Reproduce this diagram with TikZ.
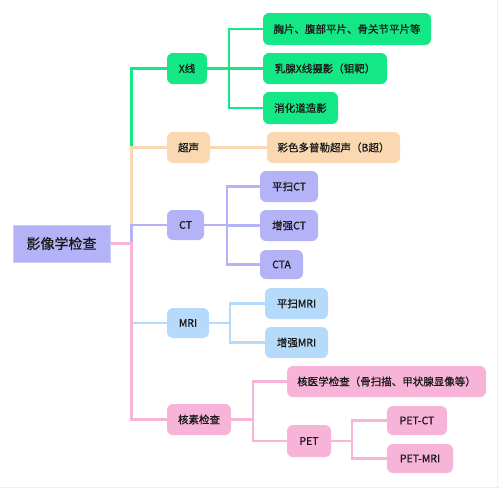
\documentclass[tikz,border=0pt]{standalone}
\usepackage{fontspec}
\setmainfont{Noto Sans CJK SC}[FakeBold=0.8,AutoFakeBold=0.8]
\usetikzlibrary{backgrounds}
\begin{document}
\begin{tikzpicture}[x=1pt,y=-1pt,
  every node/.style={text=black!90, font=\bfseries},
  box/.style={rounded corners=6pt, minimum height=31pt, inner sep=0pt, font=\fontsize{10.5}{12}\selectfont\bfseries},
  cgreen/.style={fill=mgreen}, cpeach/.style={fill=mpeach}, cviolet/.style={fill=mviolet},
  cblue/.style={fill=mblue}, cpink/.style={fill=mpink},
  link/.style={line width=2.8pt, line join=miter}]
\definecolor{mgreen}{HTML}{14E886}
\definecolor{mpeach}{HTML}{FAD8B2}
\definecolor{mviolet}{HTML}{B4B3F7}
\definecolor{mblue}{HTML}{B6DBFA}
\definecolor{mpink}{HTML}{F8B4D8}
\useasboundingbox (0,0) rectangle (500,488);
\draw[black!6, line width=1pt] (0,487.5) -- (500,487.5);
\draw[black!6, line width=1pt] (497.5,0) -- (497.5,487.5);
% coordinates for trunks
\coordinate (t0) at (131.5,0);
\coordinate (tx) at (229,0);
\coordinate (tc) at (227,0);
\coordinate (tm) at (230,0);
\coordinate (tn) at (253,0);
\coordinate (tp) at (352,0);
% nodes
\node[fill=mviolet, draw=mviolet!70!white, line width=0.6pt, minimum width=97pt, minimum height=37pt, inner sep=0pt, font=\fontsize{14}{16}\selectfont\bfseries] (root) at (61.5,243.5) {影像学检查};
\node[box, cgreen, minimum width=40pt] (x) at (187,68.5) {X线};
\node[box, cpeach, minimum width=43pt] (us) at (188.5,147.5) {超声};
\node[box, cviolet, minimum width=37pt, minimum height=30pt] (ct) at (185.5,225) {CT};
\node[box, cblue, minimum width=42pt, minimum height=30pt] (mri) at (188,323) {MRI};
\node[box, cpink, minimum width=64pt] (nuc) at (199,419.5) {核素检查};
\node[box, cgreen, minimum width=168pt, minimum height=32pt] (x1) at (347,29) {胸片、腹部平片、骨关节平片等};
\node[box, cgreen, minimum width=124pt] (x2) at (325,68.5) {乳腺X线摄影（钼靶）};
\node[box, cgreen, minimum width=75pt, minimum height=32pt] (x3) at (300.5,108) {消化道造影};
\node[box, cpeach, minimum width=133pt] (us1) at (333.5,147.5) {彩色多普勒超声（B超）};
\node[box, cviolet, minimum width=58pt] (ct1) at (289,186.5) {平扫CT};
\node[box, cviolet, minimum width=58pt] (ct2) at (289,225.5) {增强CT};
\node[box, cviolet, minimum width=43pt, minimum height=29pt] (ct3) at (281.5,264.5) {CTA};
\node[box, cblue, minimum width=63pt] (m1) at (296.5,303.5) {平扫MRI};
\node[box, cblue, minimum width=63pt] (m2) at (296.5,342.5) {增强MRI};
\node[box, cpink, minimum width=199pt] (n1) at (386.5,381.5) {核医学检查（骨扫描、甲状腺显像等）};
\node[box, cpink, minimum width=44pt, minimum height=32pt] (pet) at (309,441) {PET};
\node[box, cpink, minimum width=60pt, minimum height=29pt] (p1) at (417,420.5) {PET-CT};
\node[box, cpink, minimum width=66pt, minimum height=29pt] (p2) at (420,458.5) {PET-MRI};
% connectors
\begin{scope}[on background layer]
\draw[link, mgreen] (root.east) -- (root.east -| t0) |- (x.west);
\draw[link, mpeach] (root.east) -- (root.east -| t0) |- (us.west);
\draw[link, mviolet] (root.east) -- (root.east -| t0) |- (ct.west);
\draw[link, mblue] (root.east) -- (root.east -| t0) |- (mri.west);
\draw[link, mpink] (root.east) -- (root.east -| t0) |- (nuc.west);
\foreach \c in {x1,x2,x3}{\draw[link, mgreen] (x.east) -- (x.east -| tx) |- (\c.west);}
\draw[link, mpeach] (us.east) -- (us1.west);
\foreach \c in {ct1,ct2,ct3}{\draw[link, mviolet] (ct.east) -- (ct.east -| tc) |- (\c.west);}
\foreach \c in {m1,m2}{\draw[link, mblue] (mri.east) -- (mri.east -| tm) |- (\c.west);}
\foreach \c in {n1,pet}{\draw[link, mpink] (nuc.east) -- (nuc.east -| tn) |- (\c.west);}
\foreach \c in {p1,p2}{\draw[link, mpink] (pet.east) -- (pet.east -| tp) |- (\c.west);}
\end{scope}
\end{tikzpicture}
\end{document}
